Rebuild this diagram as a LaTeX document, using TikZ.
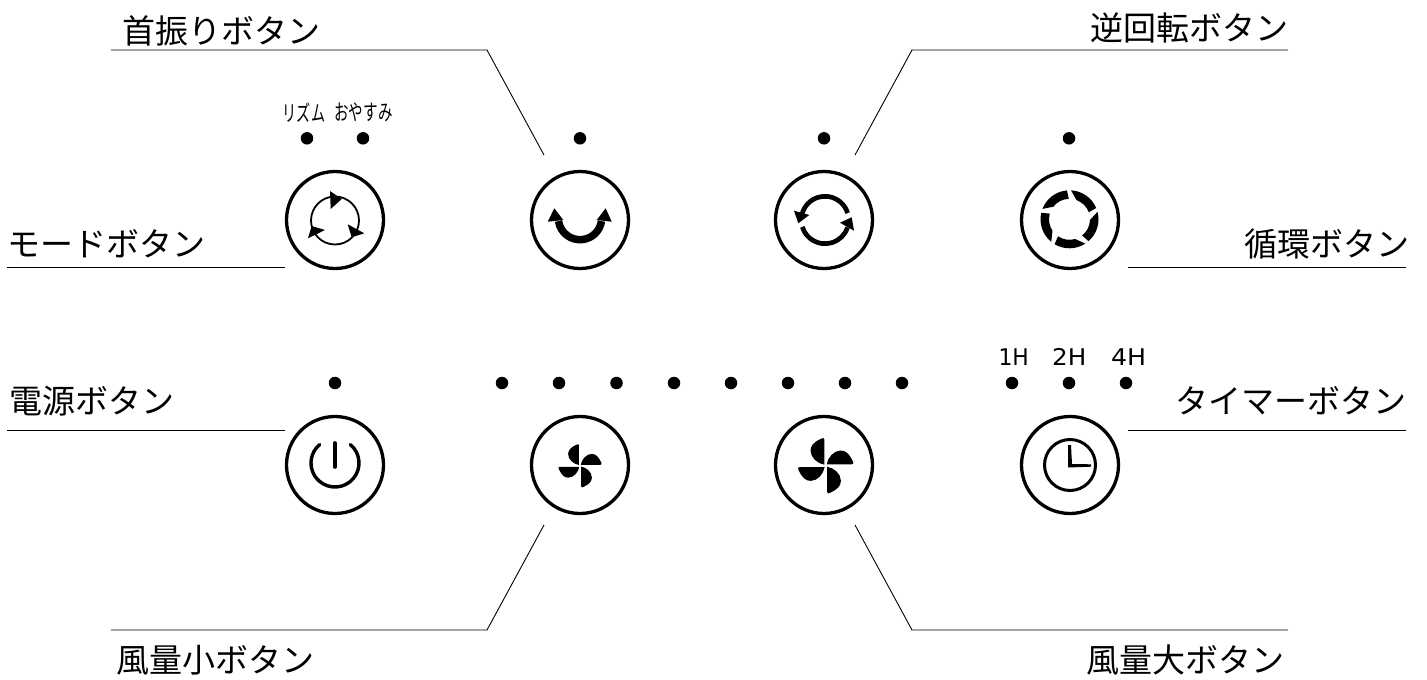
\documentclass[tikz,border=0pt]{standalone}
\usepackage{graphicx}
\usepackage{fontspec}
\setmainfont{Noto Sans CJK JP}
\newfontfamily\latinfont{DejaVu Sans}
\newcommand{\fanicon}[3]{%
  \begin{scope}[shift={(#1,#2)},scale=#3]
    \foreach \r in {0,90,180,270}{
      \fill[rotate=\r,ink] (-1.3,-1) -- (-1.3,-26) .. controls (-1.3,-28.2) and (-3,-28.2) .. (-5,-26.8)
        .. controls (-12,-23.5) and (-15.2,-20) .. (-15.2,-15)
        .. controls (-15.2,-8) and (-8,-2) .. (-1.3,-1) -- cycle;
    }
  \end{scope}}
\colorlet{ink}{black}
\tikzset{
  btn/.style={circle,draw=ink,line width=3.3pt,minimum size=97pt,inner sep=0pt,fill=white},
  leddot/.style={circle,fill=ink,minimum size=12.5pt,inner sep=0pt},
  leader/.style={draw=ink,line width=0.9pt},
  lab/.style={font=\fontsize{33}{33}\selectfont,inner sep=0pt,text=ink},
  ledlab/.style={font=\fontsize{22}{22}\selectfont,inner sep=0pt,text=ink},
  hlab/.style={font=\latinfont\fontsize{23}{23}\selectfont,inner sep=0pt,text=ink},
}
\begin{document}
\begin{tikzpicture}[x=1pt,y=-1pt]
\useasboundingbox (0,0) rectangle (1427,680);
% buttons
\node[btn] (mode) at (335,220) {};
\node[btn] (swing) at (580,220) {};
\node[btn] (rev) at (824,220) {};
\node[btn] (circ) at (1070,220) {};
\node[btn] (power) at (335,465) {};
\node[btn] (low) at (580,465) {};
\node[btn] (high) at (824,465) {};
\node[btn] (timer) at (1070,465) {};
% LEDs
\node[leddot] (d1) at (307,138.3) {};
\node[leddot] (d2) at (363,138.3) {};
\node[leddot] (d3) at (580,138.3) {};
\node[leddot] (d4) at (824,138.3) {};
\node[leddot] (d5) at (1069,138.3) {};
\node[leddot] (d6) at (335,383) {};
\foreach \n/\x in {a/502,b/559,c/616.5,e/674,f/731,g/788,h/845,i/902,j/1012,k/1069,l/1126}
  \node[leddot] (s\n) at (\x,383) {};
% LED labels
\node[ledlab] (rz) at (304,112.5) {\scalebox{0.64}[1]{リズム}};
\node[ledlab] (oy) at (363.5,112.5) {\scalebox{0.66}[1]{おやすみ}};
\node[hlab] (h1) at (1013.7,357) {\scalebox{0.95}[1]{1H}};
\node[hlab] (h2) at (1069.3,357) {\scalebox{1.07}[1]{2H}};
\node[hlab] (h4) at (1128.7,357) {\scalebox{1.1}[1]{4H}};
% labels
\node[lab,anchor=west] (l1) at (122.5,31) {首振りボタン};
\node[lab,anchor=east] (l2) at (1289,28) {逆回転ボタン};
\node[lab,anchor=west] (l3) at (7.5,244) {モードボタン};
\node[lab,anchor=east] (l4) at (1410,244) {循環ボタン};
\node[lab,anchor=west] (l5) at (9,401) {電源ボタン};
\node[lab,anchor=east] (l6) at (1407,401) {タイマーボタン};
\node[lab,anchor=west] (l7) at (116,660) {風量小ボタン};
\node[lab,anchor=east] (l8) at (1285,660) {風量大ボタン};
% leader ends
\coordinate (a1) at (111,50); \coordinate (a2) at (487,50); \coordinate (a3) at (544,155);
\coordinate (b1) at (1288,50); \coordinate (b2) at (912,50); \coordinate (b3) at (855,155);
\coordinate (c1) at (7,267); \coordinate (c2) at (285,267);
\coordinate (e1) at (1128,267); \coordinate (e2) at (1406,267);
\coordinate (f1) at (7,430); \coordinate (f2) at (285,430);
\coordinate (g1) at (1128,430); \coordinate (g2) at (1406,430);
\coordinate (i1) at (111,630); \coordinate (i2) at (487,630); \coordinate (i3) at (544,525);
\coordinate (j1) at (1288,630); \coordinate (j2) at (912,630); \coordinate (j3) at (855,525);
\draw[leader] (a1) -- (a2) -- (a3);
\draw[leader] (b1) -- (b2) -- (b3);
\draw[leader] (c1) -- (c2);
\draw[leader] (e1) -- (e2);
\draw[leader] (f1) -- (f2);
\draw[leader] (g1) -- (g2);
\draw[leader] (i1) -- (i2) -- (i3);
\draw[leader] (j1) -- (j2) -- (j3);
% mode icon
\draw[ink,line width=1.8pt] (335,220.5) circle[radius=24];
\fill[ink] (330,191) -- (330.7,209) -- (341.7,199) -- cycle;
\fill[ink] (347.7,224.3) -- (364.3,233.3) -- (351.7,237.3) -- cycle;
\fill[ink] (308,238.3) -- (325,230) -- (311.7,226) -- cycle;
% swing icon
\begin{scope}[shift={(580,218)}]
  \draw[ink,line width=7.5pt] (172:21.7) arc[start angle=172,end angle=8,radius=21.7];
\end{scope}
\fill[ink] (547.7,221.7) -- (554.3,208.3) -- (563.3,220) -- cycle;
\fill[ink] (611.7,221.7) -- (605.7,208.3) -- (596.7,220) -- cycle;
% reverse icon
\begin{scope}[shift={(825,220)}]
  \draw[ink,line width=4.7pt] (-17:23.7) arc[start angle=-17,end angle=-165,radius=23.7];
  \draw[ink,line width=4.7pt] (163:23.7) arc[start angle=163,end angle=18,radius=23.7];
\end{scope}
\fill[ink] (794,210.7) -- (798.3,223.3) -- (809.3,215) -- cycle;
\fill[ink] (851.7,217.3) -- (854,230.7) -- (840,222.7) -- cycle;
% circulation icon
\begin{scope}[shift={(1069.5,219.3)}]
  \foreach \a in {-159,-87,-15,57,129}{
    \fill[ink] (\a:29) arc[start angle=\a,delta angle=64,radius=29]
      -- ({\a+67}:20.5) arc[start angle=\a+67,delta angle=-50,radius=20.5] -- cycle;
  }
\end{scope}
% power icon
\begin{scope}[shift={(335,463)}]
  \draw[ink,line width=3.4pt,line cap=round] (-50:24) arc[start angle=-50,delta angle=280,radius=24];
\end{scope}
\draw[ink,line width=3.6pt,line cap=round] (335,443) -- (335,467);
% fans
\fanicon{580}{465.8}{0.78}
\fanicon{825.7}{465.7}{1}
% clock
\draw[ink,line width=3pt] (1070,465) circle[radius=25.5];
\fill[ink] (1068,445) -- (1071,445) -- (1072,464) -- (1091,464.3) -- (1091,466.7) -- (1068,467.5) -- cycle;
\end{tikzpicture}
\end{document}
